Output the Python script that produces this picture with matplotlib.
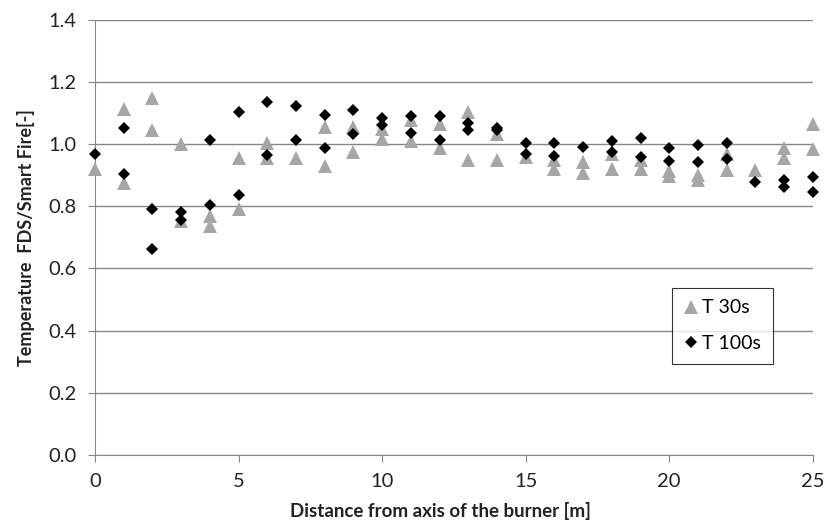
import matplotlib
matplotlib.use('Agg')
from matplotlib import pyplot as plt
from matplotlib.ticker import FormatStrFormatter

# T 30s readings (gray triangles)
t30_x = [0, 1, 1, 2, 2, 3, 3, 4, 4, 5, 5, 6, 6, 7, 8, 8, 9, 9, 10, 10,
         11, 11, 12, 12, 13, 13, 14, 14, 15, 16, 16, 17, 17, 18, 18,
         19, 19, 20, 20, 21, 21, 22, 22, 23, 24, 24, 25, 25]
t30_y = [0.921, 1.112, 0.875, 1.148, 1.045, 0.999, 0.751, 0.767, 0.737, 0.956, 0.790,
         1.002, 0.956, 0.954, 1.055, 0.929, 1.055, 0.975, 1.048, 1.017,
         1.077, 1.010, 1.064, 0.988, 1.102, 0.950, 1.034, 0.948, 0.960, 0.948, 0.921,
         0.943, 0.907, 0.967, 0.921, 0.948, 0.921, 0.913, 0.897, 0.902, 0.886,
         0.967, 0.918, 0.918, 0.988, 0.956, 1.064, 0.983]

# T 100s readings (black diamonds)
t100_x = [0, 1, 1, 2, 2, 3, 3, 4, 4, 5, 5, 6, 6, 7, 7, 8, 8, 9, 9, 10, 10,
          11, 11, 12, 12, 13, 13, 14, 14, 15, 15, 16, 16, 17, 18, 18, 19, 19,
          20, 20, 21, 21, 22, 22, 23, 24, 24, 25, 25]
t100_y = [0.969, 1.053, 0.905, 0.790, 0.662, 0.780, 0.756, 1.014, 0.803, 1.103, 0.835,
          1.136, 0.965, 1.123, 1.013, 1.093, 0.987, 1.110, 1.032, 1.085, 1.062,
          1.090, 1.037, 1.090, 1.012, 1.067, 1.045, 1.053, 1.045, 1.005, 0.967,
          1.002, 0.961, 0.990, 1.010, 0.975, 1.020, 0.958,
          0.988, 0.945, 0.997, 0.943, 1.005, 0.953, 0.877, 0.886, 0.862, 0.894, 0.845]

xticks = [0, 5, 10, 15, 20, 25]
yticks = [0.0, 0.2, 0.4, 0.6, 0.8, 1.0, 1.2, 1.4]

plt.rcParams['font.family'] = ['Lato', 'DejaVu Sans']

fig = plt.figure(figsize=(8.26, 5.21), dpi=100)
ax = fig.add_axes([0.115, 0.127, 0.869, 0.835])

gray = '#868686'

ax.plot(t30_x, t30_y, linestyle='none', marker='^', markersize=10,
        color='#a6a6a6', markeredgewidth=0, label='T 30s', clip_on=False, zorder=3)
ax.plot(t100_x, t100_y, linestyle='none', marker='D', markersize=6.5,
        color='black', markeredgewidth=0, label='T 100s', clip_on=False, zorder=4)

ax.set_xlim(0, 25)
ax.set_ylim(0, 1.4)
ax.set_xticks(xticks)
ax.set_yticks(yticks)
ax.yaxis.set_major_formatter(FormatStrFormatter('%.1f'))

# excel style gridlines and spines
ax.grid(True, axis='y', color=gray, linewidth=1)
ax.set_axisbelow(True)
ax.spines['top'].set_visible(False)
ax.spines['right'].set_visible(False)
ax.spines['left'].set_color(gray)
ax.spines['bottom'].set_color(gray)
ax.tick_params(axis='both', colors=gray, labelcolor='#222222', labelsize=14.5,
               length=5, direction='out')
ax.tick_params(axis='y', pad=8)
ax.tick_params(axis='x', pad=8)

ax.set_xlabel('Distance from axis of the burner [m]', fontsize=13.5,
              fontweight='bold', color='#222222')
ax.xaxis.set_label_coords(0.481, -0.108)
ax.set_ylabel('Temperature  FDS/Smart Fire[-]', fontsize=13,
              fontweight='bold', color='#222222', labelpad=10)

leg = ax.legend(loc='upper left', bbox_to_anchor=(0.804, 0.384),
                borderaxespad=0, fontsize=14, frameon=True, fancybox=False,
                handlelength=0.7, handletextpad=0.25, borderpad=0.6,
                labelspacing=0.95)
leg.get_frame().set_edgecolor('black')
leg.get_frame().set_linewidth(0.8)

plt.savefig('out.png', dpi=100)
